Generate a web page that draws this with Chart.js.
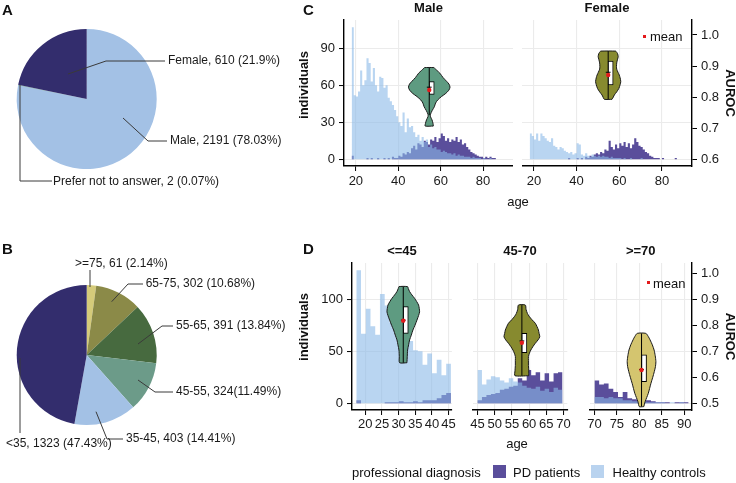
<!DOCTYPE html>
<html>
<head>
<meta charset="utf-8">
<script src="https://cdn.jsdelivr.net/npm/chart.js"></script>
<style>
  body { margin: 0; width: 736px; height: 483px; background: #fff; position: relative; overflow: hidden;
         font-family: "Liberation Sans", Arial, sans-serif; color: #111; }
  canvas { position: absolute; }
  .t { position: absolute; white-space: nowrap; line-height: 1; }
  .b { font-weight: bold; }
  .key { position: absolute; width: 13px; height: 13px; }
</style>
</head>
<body>
<canvas id="pieA" width="300" height="240" style="left:0;top:0"></canvas>
<canvas id="pieB" width="300" height="243" style="left:0;top:240px"></canvas>
<canvas id="cMale" width="216" height="192" style="left:297px;top:0"></canvas>
<canvas id="cFemale" width="214" height="192" style="left:522px;top:0"></canvas>
<canvas id="d1" width="161" height="193" style="left:297px;top:243px"></canvas>
<canvas id="d2" width="105" height="193" style="left:468px;top:243px"></canvas>
<canvas id="d3" width="151" height="193" style="left:585px;top:243px"></canvas>

<div class="t b" style="left:2px;top:1.5px;font-size:15px">A</div>
<div class="t b" style="left:2px;top:241px;font-size:15px">B</div>
<div class="t b" style="left:303px;top:1.5px;font-size:15px">C</div>
<div class="t b" style="left:303px;top:241px;font-size:15px">D</div>

<div class="t b" style="left:303px;top:85px;font-size:13px;transform:translate(-50%,-50%) rotate(-90deg)">individuals</div>
<div class="t b" style="left:303px;top:327px;font-size:13px;transform:translate(-50%,-50%) rotate(-90deg)">individuals</div>
<div class="t" style="left:518px;top:201px;font-size:13px;transform:translate(-50%,-50%)">age</div>
<div class="t" style="left:517px;top:443px;font-size:13px;transform:translate(-50%,-50%)">age</div>

<div class="t" style="left:642.5px;top:34.5px;width:3px;height:3px;background:#e31a1c"></div>
<div class="t" style="left:650px;top:36px;font-size:13px;transform:translateY(-50%)">mean</div>
<div class="t" style="left:647px;top:281px;width:3px;height:3px;background:#e31a1c"></div>
<div class="t" style="left:653px;top:282.5px;font-size:13px;transform:translateY(-50%)">mean</div>

<div class="t" style="left:352px;top:471.5px;font-size:13px;transform:translateY(-50%)">professional diagnosis</div>
<div class="key" style="left:492.5px;top:465px;background:#5a4e9b"></div>
<div class="t" style="left:513px;top:471.5px;font-size:13px;transform:translateY(-50%)">PD patients</div>
<div class="key" style="left:590.5px;top:465px;background:#b9d3ef"></div>
<div class="t" style="left:612.5px;top:471.5px;font-size:13px;transform:translateY(-50%)">Healthy controls</div>

<script>
// ---- panel A: sex (clockwise from 12 o'clock) ----
const sexGroups = ['Male', 'Prefer not to answer', 'Female'];
const sexCounts = [2191, 2, 610];
const sexShares = ['78.03%', '0.07%', '21.9%'];
const sexColors = ['#a3c1e5', '#5f9c84', '#332d6d'];

// ---- panel B: age groups (clockwise from 12 o'clock) ----
const ageGroups = ['>=75', '65-75', '55-65', '45-55', '35-45', '<35'];
const ageCounts = [61, 302, 391, 324, 403, 1323];
const ageSliceLabels = ['>=75, 61 (2.14%)', '65-75, 302 (10.68%)', '55-65, 391 (13.84%)',
                        '45-55, 324(11.49%)', '35-45, 403 (14.41%)', '<35, 1323 (47.43%)'];
const ageColors = ['#d5cb7a', '#8b8a48', '#476a3f', '#6c9b89', '#a3c1e5', '#332d6d'];

// ---- panel C: 1-year age bins, first bin 18-19 ----
const cBinStart = 18.5, cBinWidth = 1;
const maleHC = [107, 52, 51, 55, 72, 60, 64, 82, 78, 63,
                74, 60, 55, 67, 66, 58, 60, 50, 47, 44,
                40, 35, 30, 27, 38, 22, 33, 26, 27, 22,
                18, 20, 15, 18, 14, 16, 10, 12, 9, 10,
                8, 8, 6, 7, 6, 5, 5, 4, 5, 3,
                4, 3, 3, 2, 2, 2, 1, 2, 1, 1,
                1, 0, 1, 0, 0, 1, 0, 0, 0, 0,
                0, 0, 0];
const malePD = [3, 0, 0, 0, 0, 0, 0, 1, 0, 1,
                0, 0, 1, 0, 0, 1, 0, 1, 0, 2,
                1, 1, 3, 2, 5, 4, 6, 5, 9, 11,
                8, 13, 12, 10, 15, 14, 12, 16, 15, 18,
                14, 17, 21, 19, 15, 17, 14, 16, 15, 18,
                14, 16, 12, 13, 10, 8, 6, 5, 4, 3,
                2, 2, 1, 2, 1, 2, 1, 1, 0, 0,
                0, 0, 0];
const femaleHC = [21, 19, 16, 21, 15, 21, 19, 17, 15, 14,
                  17, 11, 10, 8, 10, 9, 7, 6, 5, 6,
                  4, 5, 13, 12, 4, 3, 5, 3, 2, 4,
                  3, 2, 3, 2, 3, 2, 2, 1, 2, 1,
                  1, 1, 1, 0, 1, 0, 0, 1, 0, 0,
                  0, 0, 1, 0, 0, 0, 0, 0, 0, 0,
                  0, 0, 0, 0, 0, 0, 0, 0, 0, 0,
                  0, 0, 0];
const femalePD = [0, 0, 0, 0, 0, 0, 0, 0, 0, 0,
                  0, 0, 0, 0, 0, 0, 0, 0, 1, 0,
                  0, 0, 1, 0, 1, 0, 2, 1, 3, 2,
                  4, 5, 4, 6, 5, 8, 7, 15, 10, 8,
                  12, 9, 13, 11, 14, 10, 13, 9, 12, 17,
                  14, 11, 10, 8, 6, 5, 3, 2, 1, 1,
                  1, 0, 1, 0, 0, 0, 0, 0, 1, 0,
                  0, 0, 0];

// ---- panel D: 20 bins per facet ----
const d1BinStart = 18, d1BinWidth = 27 / 19;
const d1HC = [128, 67, 91, 74, 66, 105, 94, 78, 78, 70, 66, 60, 51, 50, 37, 48, 29, 42, 27, 38];
const d1PD = [3, 0, 0, 0, 0, 0, 1, 1, 1, 2, 1, 1, 2, 1, 3, 3, 3, 5, 8, 10];
const d2BinStart = 45.65, d2BinWidth = 1.3;
const d2HC = [32, 18, 23, 26, 25, 22, 20, 24, 21, 20, 17, 15, 14, 16, 12, 14, 11, 15, 13];
const d2PD = [3, 6, 8, 9, 10, 13, 14, 16, 17, 24, 22, 32, 27, 30, 22, 29, 21, 29, 30];
const d3BinStart = 70.525, d3BinWidth = 1.05;
const d3HC = [6, 6, 5, 6, 5, 5, 3, 3, 2, 2, 2, 1, 1, 1, 1, 0, 1, 0, 1, 0];
const d3PD = [22, 18, 19, 14, 11, 6, 11, 5, 4, 3, 3, 3, 2, 1, 1, 1, 0, 1, 1, 1];

// ---- AUROC violins: [auroc, half width in years], bottom to top ----
const violinMale = [[0.707, 1.9], [0.715, 1.8], [0.727, 1.3], [0.737, 0.6], [0.745, 0.6], [0.757, 1.4],
  [0.769, 2.4], [0.781, 3.0], [0.791, 4.0], [0.802, 5.8], [0.812, 7.8], [0.822, 9.2], [0.832, 9.8],
  [0.842, 9.3], [0.850, 8.3], [0.863, 6.5], [0.877, 5.0], [0.886, 3.6], [0.893, 2.5], [0.895, 2.2]];
const violinFemale = [[0.793, 1.8], [0.800, 2.4], [0.807, 2.9], [0.817, 4.0], [0.828, 5.0], [0.840, 5.6],
  [0.850, 5.9], [0.862, 5.6], [0.871, 5.2], [0.880, 4.6], [0.890, 4.0], [0.898, 3.9], [0.910, 4.0],
  [0.922, 4.4], [0.930, 4.7], [0.940, 4.4], [0.946, 3.8], [0.948, 3.5]];
const violinD1 = [[0.656, 1.1], [0.68, 1.2], [0.705, 1.3], [0.725, 1.6], [0.744, 1.9], [0.762, 2.4],
  [0.782, 2.9], [0.80, 3.5], [0.82, 4.1], [0.838, 4.6], [0.852, 4.9], [0.865, 4.8], [0.878, 4.6],
  [0.892, 4.0], [0.904, 3.4], [0.917, 2.6], [0.93, 1.9], [0.942, 1.5], [0.949, 1.3]];
const violinD2 = [[0.606, 2.0], [0.625, 2.0], [0.645, 1.9], [0.665, 1.9], [0.68, 1.9], [0.693, 2.2],
  [0.705, 2.6], [0.718, 3.2], [0.731, 3.9], [0.744, 4.7], [0.756, 5.2], [0.769, 5.0], [0.782, 4.8],
  [0.795, 4.4], [0.808, 3.9], [0.822, 2.9], [0.835, 2.1], [0.846, 1.6], [0.862, 1.2], [0.878, 1.0]];
const violinD3 = [[0.487, 0.5], [0.506, 0.8], [0.522, 1.15], [0.538, 1.5], [0.557, 1.8], [0.577, 2.1],
  [0.6, 2.5], [0.622, 2.85], [0.641, 3.1], [0.66, 3.2], [0.683, 3.05], [0.705, 2.8], [0.725, 2.4],
  [0.744, 1.9], [0.757, 1.5], [0.769, 0.96]];
// box stats: [whisker low, q1, median, q3, whisker high, mean]
const boxMale = [0.742, 0.809, 0.832, 0.850, 0.895, 0.823];
const boxFemale = [0.793, 0.839, 0.880, 0.916, 0.948, 0.871];
const boxD1 = [0.656, 0.769, 0.820, 0.872, 0.949, 0.818];
const boxD2 = [0.606, 0.695, 0.740, 0.769, 0.878, 0.733];
const boxD3 = [0.487, 0.583, 0.630, 0.686, 0.769, 0.628];
// age where each violin sits
const violinAge = { male: 54.6, female: 54.8, d1: 31.4, d2: 57.9, d3: 80.5 };

// ---- tick labels ----
const cAgeTicks = [20, 40, 60, 80];
const cCountTicks = [0, 30, 60, 90];
const d1AgeTicks = [20, 25, 30, 35, 40, 45];
const d2AgeTicks = [45, 50, 55, 60, 65, 70];
const d3AgeTicks = [70, 75, 80, 85, 90];
const dCountTicks = [0, 50, 100];
const aurocTicks = [0.6, 0.7, 0.8, 0.9, 1.0];
const aurocTicksD = [0.5, 0.6, 0.7, 0.8, 0.9, 1.0];

Chart.defaults.font.family = '"Liberation Sans", Arial, sans-serif';
Chart.defaults.color = '#111';
Chart.defaults.animation = false;

// leader lines + labels for the pies, offsets in px from pie centre (radius 70)
const pieLabels = {
    id: 'pieLabels',
    afterDatasetsDraw(chart, args, opts) {
        const arc = chart.getDatasetMeta(0).data[0];
        const cx = arc.x, cy = arc.y, k = arc.outerRadius / 70;
        const ctx = chart.ctx;
        ctx.save();
        ctx.strokeStyle = '#3a3a3a';
        ctx.lineWidth = 1;
        ctx.font = '12px "Liberation Sans", Arial, sans-serif';
        ctx.fillStyle = '#1a1a1a';
        ctx.textBaseline = 'middle';
        opts.items.forEach((it, i) => {
            ctx.beginPath();
            it.line.forEach((p, j) => {
                const X = cx + p[0] * k, Y = cy + p[1] * k;
                if (j === 0) ctx.moveTo(X, Y); else ctx.lineTo(X, Y);
            });
            ctx.stroke();
            ctx.fillText(opts.texts[i], cx + it.at[0] * k, cy + it.at[1] * k);
        });
        ctx.restore();
    }
};

function pie(id, labels, values, colors, texts, items, padding) {
    new Chart(document.getElementById(id), {
        type: 'pie',
        data: { labels: labels, datasets: [{ data: values, backgroundColor: colors, borderWidth: 0, hoverOffset: 0 }] },
        options: {
            responsive: false,
            events: [],
            layout: { padding: padding },
            plugins: { legend: { display: false }, tooltip: { enabled: false }, pieLabels: { items: items, texts: texts } }
        },
        plugins: [pieLabels]
    });
}

pie('pieA', sexGroups, sexCounts, sexColors,
    sexGroups.map((g, i) => g + ', ' + sexCounts[i] + ' (' + sexShares[i] + ')'),
    [
        { line: [[36.3, 19], [61.3, 42], [80.3, 42]], at: [83.3, 42] },
        { line: [[-66.7, -14], [-66.7, 82], [-34.7, 82]], at: [-33.7, 83] },
        { line: [[-18.7, -25], [19.3, -38], [78.3, -38]], at: [81.3, -38] }
    ],
    { left: 16.7, top: 29, right: 143.3, bottom: 71 });

pie('pieB', ageGroups, ageCounts, ageColors, ageSliceLabels,
    [
        { line: [[3.3, -68], [3.3, -85]], at: [-11.7, -91] },
        { line: [[25, -53.3], [41.3, -71], [56.3, -71]], at: [59, -71] },
        { line: [[51.3, -11], [75.3, -29], [86.3, -29]], at: [89.3, -29] },
        { line: [[51.3, 25], [68.3, 37], [86.3, 37]], at: [89.3, 37] },
        { line: [[9.3, 56.7], [20.3, 84], [36.3, 84]], at: [39.3, 84] },
        { line: [[-66.7, 3], [-66.7, 78]], at: [-80.7, 89] }
    ],
    { left: 16.7, top: 45, right: 143.3, bottom: 58 });

// histogram as a stepped area: one point at each bin's left edge, plus the last right edge
function stepPoints(start, width, values) {
    const pts = values.map((v, i) => ({ x: start - width / 2 + i * width, y: v }));
    pts.push({ x: start - width / 2 + values.length * width, y: values[values.length - 1] });
    return pts;
}

function outline(center, shape) {
    const right = shape.map(p => ({ x: center + p[1], y: p[0] }));
    const left = shape.slice().reverse().map(p => ({ x: center - p[1], y: p[0] }));
    return right.concat(left, [right[0]]);
}

function setTicks(values) {
    return scale => { scale.ticks = values.map(v => ({ value: v })); };
}

function facet(f) {
    const c = f.center, b = f.box;
    const datasets = [
        { type: 'scatter', data: [{ x: c, y: b[5] }], yAxisID: 'y2', pointRadius: 2.2,
          pointBackgroundColor: '#e31a1c', pointBorderWidth: 0, order: 0 },
        { type: 'scatter', data: [{ x: c, y: b[2] }], yAxisID: 'y2', pointStyle: 'line', pointRadius: 2.4,
          pointBorderColor: '#000', pointBorderWidth: 1, order: 1 },
        { type: 'bar', data: [{ x: c, y: [b[1], b[3]] }], xAxisID: 'xb', yAxisID: 'y2', backgroundColor: '#fff',
          borderColor: '#000', borderWidth: 1, borderSkipped: false, barThickness: 5, order: 2 },
        { type: 'line', data: [{ x: c, y: b[0] }, { x: c, y: b[4] }], yAxisID: 'y2', borderColor: '#000',
          borderWidth: 1, pointRadius: 0, fill: false, order: 3 },
        { type: 'line', data: outline(c, f.violin), yAxisID: 'y2', borderColor: '#1a1a1a', borderWidth: 1,
          backgroundColor: f.violinColor, fill: 'shape', pointRadius: 0, tension: 0.25, order: 4 },
        { type: 'line', label: 'Healthy controls', data: stepPoints(f.binStart, f.binWidth, f.hc),
          stepped: true, fill: 'origin', borderWidth: 0, pointRadius: 0,
          backgroundColor: 'rgba(138,185,232,0.6)', borderColor: 'rgba(0,0,0,0)', order: 5 },
        { type: 'line', label: 'PD patients', data: stepPoints(f.binStart, f.binWidth, f.pd),
          stepped: true, fill: 'origin', borderWidth: 0, pointRadius: 0,
          backgroundColor: '#5a4e9b', borderColor: 'rgba(0,0,0,0)', order: 6 }
    ];
    const tickFont = { size: 13 };
    new Chart(document.getElementById(f.id), {
        type: 'scatter',
        data: { datasets: datasets },
        options: {
            responsive: false,
            events: [],
            layout: { autoPadding: false, padding: 0 },
            plugins: {
                legend: { display: false },
                tooltip: { enabled: false },
                title: { display: true, text: f.title, fullSize: false, color: '#111',
                         font: { size: 13, weight: 'bold' }, padding: { top: 1, bottom: 3.4 } }
            },
            scales: {
                x: {
                    type: 'linear', min: f.xMin, max: f.xMax, offset: false,
                    afterBuildTicks: setTicks(f.xTicks),
                    afterFit: s => { s.height = 26; },
                    grid: { color: '#ebebeb', lineWidth: 1.1, offset: false, tickColor: '#000', tickLength: 5, tickWidth: 1 },
                    border: { display: true, color: '#000', width: 1.4 },
                    ticks: { font: tickFont, color: '#1a1a1a', padding: f.xPad, autoSkip: false, maxRotation: 0, minRotation: 0 }
                },
                xb: { type: 'linear', min: f.xMin, max: f.xMax, offset: false, display: false },
                y: {
                    type: 'linear', position: 'left', min: f.yMin, max: f.yMax,
                    afterBuildTicks: setTicks(f.yTicks),
                    afterFit: s => { s.width = f.yW; },
                    grid: { color: '#ebebeb', lineWidth: 1.1, drawTicks: f.showY, tickColor: '#000', tickLength: 5, tickWidth: 1 },
                    border: { display: f.showY, color: '#000', width: 1.4 },
                    ticks: { display: f.showY, font: tickFont, color: '#1a1a1a', padding: 4 }
                },
                y2: {
                    type: 'linear', position: 'right', min: f.y2Min, max: f.y2Max, display: f.showY2,
                    afterBuildTicks: setTicks(f.y2Ticks),
                    afterFit: s => { s.width = f.showY2 ? 44 : 0; },
                    grid: { drawOnChartArea: false, tickColor: '#000', tickLength: 5, tickWidth: 1 },
                    border: { display: true, color: '#000', width: 1.4 },
                    ticks: { font: tickFont, color: '#1a1a1a', padding: 4, callback: v => v.toFixed(1) },
                    title: { display: true, text: 'AUROC', color: '#111', font: { size: 13, weight: 'bold', lineHeight: 1 }, padding: 0 }
                }
            }
        }
    });
}

const cRange = { xMin: 14.4, xMax: 94.1, yMin: -5.4, yMax: 112.9, y2Min: 0.5786, y2Max: 1.048,
                 yTicks: cCountTicks, y2Ticks: aurocTicks, xTicks: cAgeTicks, xPad: 3,
                 binStart: cBinStart, binWidth: cBinWidth };
const dRange = { yMin: -6.4, yMax: 134.9, y2Min: 0.474, y2Max: 1.04, yTicks: dCountTicks, y2Ticks: aurocTicksD, xPad: 2 };

facet(Object.assign({}, cRange, { id: 'cMale', title: 'Male', hc: maleHC, pd: malePD, showY: true, showY2: false, yW: 47,
    violin: violinMale, box: boxMale, center: violinAge.male, violinColor: '#5e9b81' }));
facet(Object.assign({}, cRange, { id: 'cFemale', title: 'Female', hc: femaleHC, pd: femalePD, showY: false, showY2: true, yW: 0,
    violin: violinFemale, box: boxFemale, center: violinAge.female, violinColor: '#878a2f' }));
facet(Object.assign({}, dRange, { id: 'd1', title: '<=45', xMin: 16, xMax: 46, xTicks: d1AgeTicks,
    binStart: d1BinStart, binWidth: d1BinWidth, hc: d1HC, pd: d1PD, showY: true, showY2: false, yW: 55,
    violin: violinD1, box: boxD1, center: violinAge.d1, violinColor: '#5e9b81' }));
facet(Object.assign({}, dRange, { id: 'd2', title: '45-70', xMin: 43.6, xMax: 71.1, xTicks: d2AgeTicks,
    binStart: d2BinStart, binWidth: d2BinWidth, hc: d2HC, pd: d2PD, showY: false, showY2: false, yW: 0,
    violin: violinD2, box: boxD2, center: violinAge.d2, violinColor: '#878a2f' }));
facet(Object.assign({}, dRange, { id: 'd3', title: '>=70', xMin: 68.9, xMax: 91.75, xTicks: d3AgeTicks,
    binStart: d3BinStart, binWidth: d3BinWidth, hc: d3HC, pd: d3PD, showY: false, showY2: true, yW: 0,
    violin: violinD3, box: boxD3, center: violinAge.d3, violinColor: '#d4c56f' }));
</script>
</body>
</html>
